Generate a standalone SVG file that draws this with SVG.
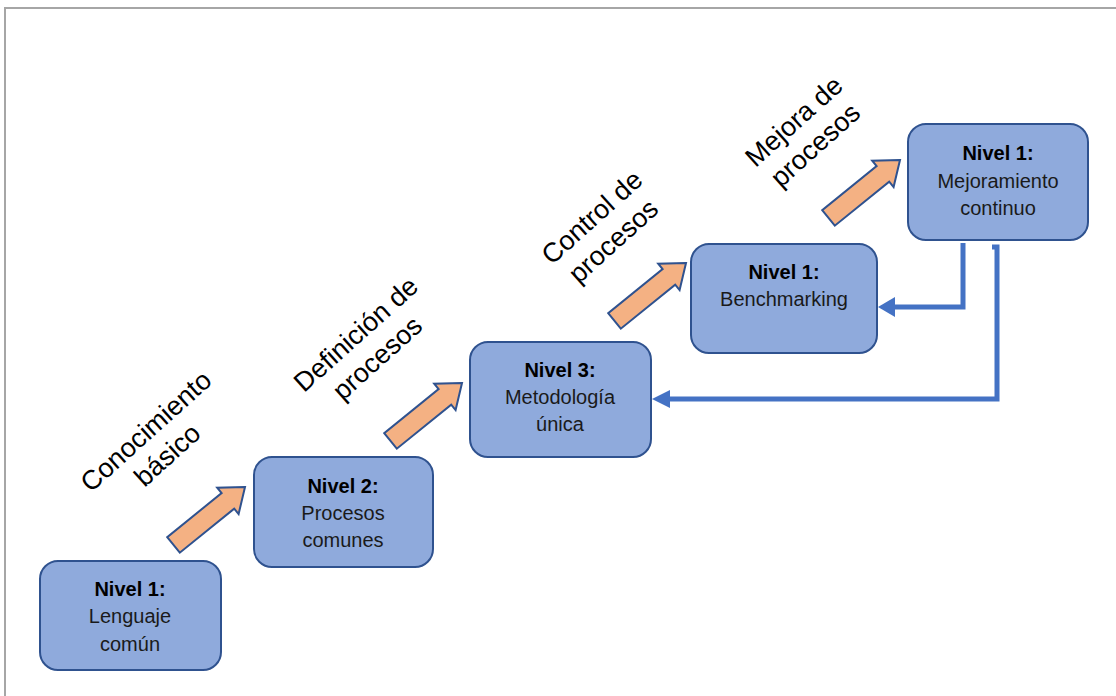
<svg xmlns="http://www.w3.org/2000/svg" width="1116" height="696" viewBox="0 0 1116 696">
  <style>
    .frame { fill: none; stroke: #a6a6a6; stroke-width: 2; }
    .box { fill: #8faadc; stroke: #2f528f; stroke-width: 2; }
    .t { font-family: "Liberation Sans", Arial, sans-serif; font-size: 20px; fill: #1a1a1a; text-anchor: middle; }
    .b { font-weight: bold; fill: #000; }
    .lbl { font-family: "Liberation Sans", Arial, sans-serif; font-size: 27px; fill: #000; text-anchor: middle; }
    .step { fill: #f4b183; stroke: #2f528f; stroke-width: 2; stroke-linejoin: miter; }
    .fb { fill: none; stroke: #4472c4; stroke-width: 5; }
    .head { fill: #4472c4; }
  </style>
  <defs>
    <!-- block arrow, tip at origin, pointing along +x -->
    <path id="stepArrow" d="M0,0 L-22,-17 L-22,-10 L-92,-10 L-92,10 L-22,10 L-22,17 Z"/>
  </defs>

  <rect width="1116" height="696" fill="#fff"/>
  <path class="frame" d="M5,696 V8 H1116"/>

  <!-- stage labels -->
  <g id="labels">
    <text class="lbl" transform="translate(152,438) rotate(-42)"><tspan x="0" y="0">Conocimiento</tspan><tspan x="0" dy="32">básico</tspan></text>
    <text class="lbl" transform="translate(362,341) rotate(-42)"><tspan x="0" y="0">Definición de</tspan><tspan x="0" dy="32">procesos</tspan></text>
    <text class="lbl" transform="translate(598,224) rotate(-42)"><tspan x="0" y="0">Control de</tspan><tspan x="0" dy="32">procesos</tspan></text>
    <text class="lbl" transform="translate(800,128) rotate(-42)"><tspan x="0" y="0">Mejora de</tspan><tspan x="0" dy="32">procesos</tspan></text>
  </g>

  <!-- orange step arrows -->
  <g id="steps">
    <use href="#stepArrow" class="step" transform="translate(245,487) rotate(-39)"/>
    <use href="#stepArrow" class="step" transform="translate(462,383) rotate(-39)"/>
    <use href="#stepArrow" class="step" transform="translate(686,263) rotate(-39)"/>
    <use href="#stepArrow" class="step" transform="translate(900,160) rotate(-39)"/>
  </g>

  <!-- feedback connectors -->
  <g id="connectors">
    <path class="fb" d="M963,243 V307 H893"/>
    <polygon class="head" points="878,307 895,297 895,317"/>
    <path class="fb" d="M992,247 H997 V399 H668"/>
    <polygon class="head" points="652,399 670,390 670,408"/>
  </g>

  <g id="n1">
    <rect class="box" x="40" y="561" width="181" height="109" rx="18"/>
    <text class="t b" x="130" y="596">Nivel 1:</text>
    <text class="t" x="130" y="623">Lenguaje</text>
    <text class="t" x="130" y="651">común</text>
  </g>
  <g id="n2">
    <rect class="box" x="254" y="457" width="179" height="110" rx="18"/>
    <text class="t b" x="343" y="493">Nivel 2:</text>
    <text class="t" x="343" y="520">Procesos</text>
    <text class="t" x="343" y="547">comunes</text>
  </g>
  <g id="n3">
    <rect class="box" x="470" y="342" width="181" height="115" rx="18"/>
    <text class="t b" x="560" y="377">Nivel 3:</text>
    <text class="t" x="560" y="404">Metodología</text>
    <text class="t" x="560" y="431">única</text>
  </g>
  <g id="n4">
    <rect class="box" x="691" y="244" width="186" height="109" rx="18"/>
    <text class="t b" x="784" y="279">Nivel 1:</text>
    <text class="t" x="784" y="306">Benchmarking</text>
  </g>
  <g id="n5">
    <rect class="box" x="908" y="124" width="180" height="116" rx="18"/>
    <text class="t b" x="998" y="160">Nivel 1:</text>
    <text class="t" x="998" y="188">Mejoramiento</text>
    <text class="t" x="998" y="215">continuo</text>
  </g>
</svg>
